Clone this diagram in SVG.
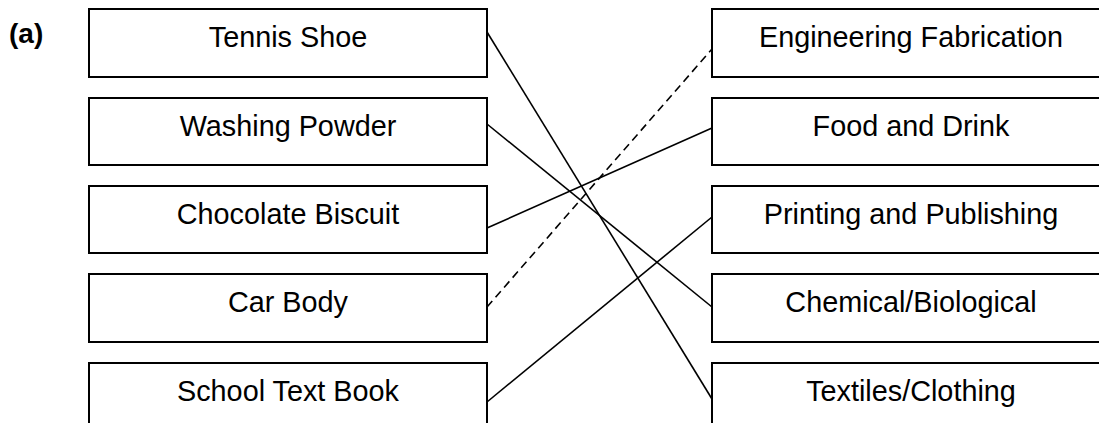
<svg xmlns="http://www.w3.org/2000/svg" width="1099" height="423" viewBox="0 0 1099 423">
<style>
.box{fill:#fff;stroke:#000;stroke-width:2}
.lbl{font-family:"Liberation Sans",Arial,sans-serif;font-size:28.8px;fill:#000;text-anchor:middle}
.ln{stroke:#000;stroke-width:1.6;fill:none}
.dash{stroke-dasharray:8 5}
</style>
<rect width="1099" height="423" fill="#fff"/>
<text x="9" y="43" font-family="Liberation Sans,Arial,sans-serif" font-size="28" font-weight="bold">(a)</text>
<g id="connectors">
<line class="ln" x1="487" y1="32" x2="712" y2="399"/>
<line class="ln" x1="487" y1="124" x2="712" y2="307"/>
<line class="ln" x1="487" y1="228" x2="712" y2="128"/>
<line class="ln dash" x1="487" y1="307" x2="712" y2="49"/>
<line class="ln" x1="487" y1="402" x2="712" y2="217"/>
</g>
<g id="tennis-shoe"><rect class="box" x="89" y="9" width="398" height="68"/><text class="lbl" x="288" y="47">Tennis Shoe</text></g>
<g id="washing-powder"><rect class="box" x="89" y="98" width="398" height="67"/><text class="lbl" x="288" y="136">Washing Powder</text></g>
<g id="chocolate-biscuit"><rect class="box" x="89" y="186" width="398" height="67"/><text class="lbl" x="288" y="224">Chocolate Biscuit</text></g>
<g id="car-body"><rect class="box" x="89" y="274" width="398" height="68"/><text class="lbl" x="288" y="312">Car Body</text></g>
<g id="school-text-book"><rect class="box" x="89" y="363" width="398" height="80"/><text class="lbl" x="288" y="401">School Text Book</text></g>
<g id="engineering-fabrication"><rect class="box" x="712" y="9" width="398" height="68"/><text class="lbl" x="911" y="47">Engineering Fabrication</text></g>
<g id="food-and-drink"><rect class="box" x="712" y="98" width="398" height="67"/><text class="lbl" x="911" y="136">Food and Drink</text></g>
<g id="printing-and-publishing"><rect class="box" x="712" y="186" width="398" height="67"/><text class="lbl" x="911" y="224">Printing and Publishing</text></g>
<g id="chemical-biological"><rect class="box" x="712" y="274" width="398" height="68"/><text class="lbl" x="911" y="312">Chemical/Biological</text></g>
<g id="textiles-clothing"><rect class="box" x="712" y="363" width="398" height="80"/><text class="lbl" x="911" y="401">Textiles/Clothing</text></g>
</svg>
